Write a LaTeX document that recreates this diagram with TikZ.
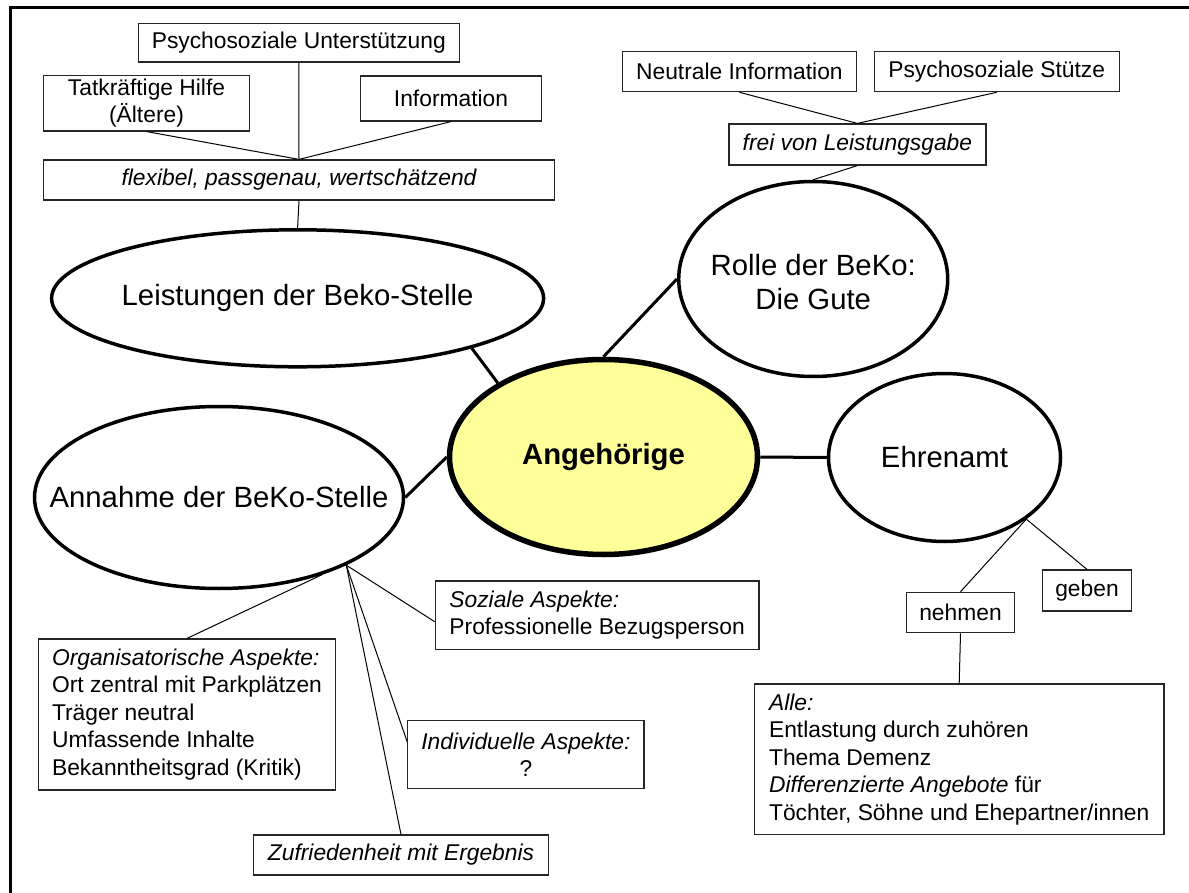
\documentclass[tikz,border=0pt]{standalone}
\usepackage{fontspec}
\setmainfont{Liberation Sans}
\usetikzlibrary{shapes.geometric,calc}
\definecolor{angfill}{HTML}{FFFF99}
\tikzset{
 box/.style={draw=black!85, line width=1.2pt, inner sep=0pt, font=\fontsize{22.8}{27.5}\selectfont, align=center},
 ell/.style={ellipse, draw, line width=3.5pt, inner sep=0pt},
 ellt/.style={font=\fontsize{29.3}{33.5}\selectfont, align=center, inner sep=0pt},
 thinline/.style={line width=1pt},
 thickline/.style={line width=3pt},
}
\begin{document}
\begin{tikzpicture}[x=1pt,y=-1pt]
\useasboundingbox (0,0) rectangle (1189,893);
\draw[line width=2.7pt] (10.3,893) -- (10.3,7.2) -- (1189,7.2);

% boxes top left
\node[box, minimum width=320.7pt, minimum height=38.7pt] (psy) at (298.8,42.6) {Psychosoziale Unterstützung};
\node[box, minimum width=206.7pt, minimum height=55.7pt] (tat) at (146.5,103.1) {Tatkräftige Hilfe\\(Ältere)};
\node[box, minimum width=181pt, minimum height=45pt] (info) at (451,98.5) {Information};
\node[box, minimum width=511.7pt, minimum height=40pt] (flex) at (299,180) {\itshape flexibel, passgenau, wertschätzend};

% boxes top right
\node[box, minimum width=233.7pt, minimum height=40pt] (neu) at (739.4,71.7) {Neutrale Information};
\node[box, minimum width=245pt, minimum height=40pt] (stu) at (996.7,71.7) {Psychosoziale Stütze};
\node[box, minimum width=257pt, minimum height=41pt] (frei) at (857.4,144.5) {\itshape frei von Leistungsgabe};

% boxes bottom
\node[box, align=left, minimum width=297.4pt, minimum height=151pt] (org) at (187,714.5) {{\itshape Organisatorische Aspekte:}\\Ort zentral mit Parkplätzen\\Träger neutral\\Umfassende Inhalte\\Bekanntheitsgrad (Kritik)};
\node[box, align=left, minimum width=323.6pt, minimum height=68.3pt] (soz) at (597.1,615.2) {{\itshape Soziale Aspekte:}\\Professionelle Bezugsperson};
\node[box, minimum width=236.3pt, minimum height=68.4pt] (ind) at (525.9,754.5) {{\itshape Individuelle Aspekte:}\\?};
\node[box, minimum width=294.4pt, minimum height=40pt] (zuf) at (401,855) {\itshape Zufriedenheit mit Ergebnis};
\node[box, minimum width=89.4pt, minimum height=41pt] (geb) at (1087,590.5) {geben};
\node[box, minimum width=107.6pt, minimum height=40.4pt] (neh) at (960.5,612.5) {nehmen};
\node[box, align=left, minimum width=409.7pt, minimum height=150.3pt] (alle) at (959.2,759.2) {{\itshape Alle:}\\Entlastung durch zuhören\\Thema Demenz\\{\itshape Differenzierte Angebote} für\\Töchter, Söhne und Ehepartner/innen};

% ellipses
\node[ell, minimum width=492pt, minimum height=137pt] (lei) at (297.6,298.3) {};
\node[ellt] (leiT) at (lei) {Leistungen der Beko-Stelle};
\node[ell, minimum width=369pt, minimum height=182pt] (ann) at (219,497.5) {};
\node[ellt] (annT) at (ann) {Annahme der BeKo-Stelle};
\node[ell, line width=5.5pt, fill=angfill, minimum width=308pt, minimum height=195pt] (ang) at (603.5,457) {};
\node[ellt, font=\fontsize{29.3}{33.5}\selectfont\bfseries] (angT) at (ang) {Angehörige};
\node[ell, minimum width=269pt, minimum height=195pt] (rol) at (813.2,279) {};
\node[ellt] (rolT) at (813.2,282) {Rolle der BeKo:\\Die Gute};
\node[ell, minimum width=232pt, minimum height=168pt] (ehr) at (944.5,457.5) {};
\node[ellt] (ehrT) at (ehr) {Ehrenamt};

% connectors
\draw[thinline] (psy.south) -- (flex.north);
\draw[thinline] (tat.south) -- (flex.north);
\draw[thinline] (info.south) -- (flex.north);
\draw[thinline] (flex.south) -- (lei.north);
\draw[thickline] (lei.-16.4) -- (ang.145.5);
\draw[thickline] (ang.north) -- (rol.west);
\draw[thickline] (ang.east) -- (ehr.west);
\draw[thickline] (ang.west) -- (ann.east);
\draw[thinline] (neu.south) -- (frei.north);
\draw[thinline] (stu.south) -- (frei.north);
\draw[thinline] (frei.south) -- (rol.north);
\coordinate (fan) at (ann.-28.7);
\draw[thinline] (fan) -- ($(soz.west)+(0,6.5)$);
\draw[thinline] (fan) -- ($(ind.west)+(0,-12.8)$);
\draw[thinline] (fan) -- (zuf.north);
\draw[thinline] (ann.-37.7) -- (org.north);
\coordinate (ehp) at (ehr.-37.7);
\draw[thinline] (ehp) -- (neh.north);
\draw[thinline] (ehp) -- (geb.north);
\draw[thinline] (neh.south) -- (alle.north);
\end{tikzpicture}
\end{document}
